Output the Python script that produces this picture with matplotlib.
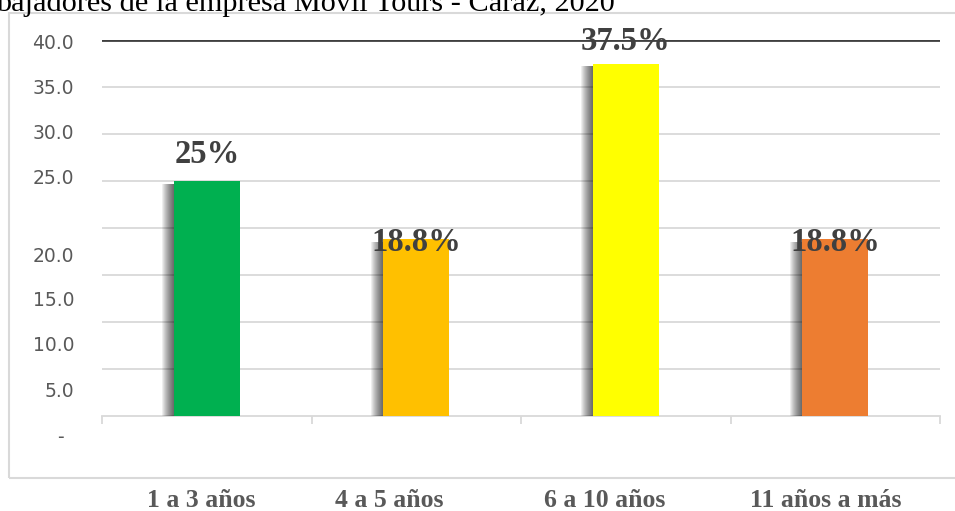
import matplotlib
matplotlib.use("Agg")
import matplotlib.pyplot as plt
from matplotlib.patches import Rectangle
from matplotlib import transforms

# Data
categories = ["1 a 3 años", "4 a 5 años", "6 a 10 años", "11 años a más"]
values = [25.0, 18.8, 37.5, 18.8]
bar_colors = ["#00B050", "#FFC000", "#FFFF00", "#ED7D31"]
ytick_values = [0, 5, 10, 15, 20, 25, 30, 35, 40]
ytick_labels = ["-", "5.0", "10.0", "15.0", "20.0", "25.0", "30.0", "35.0", "40.0"]
title_text = "bajadores de la empresa Movil Tours - Caraz, 2020"

W, H = 955, 511
DPI = 100
fig = plt.figure(figsize=(W / DPI, H / DPI), dpi=DPI)
fig.patch.set_facecolor("white")


def fx(x):
    return x / W


def fy(y):
    return 1 - y / H


# Plot area
left, right, top, bottom = 102, 940, 40, 416
ax = fig.add_axes([fx(left), fy(bottom), fx(right - left), (bottom - top) / H])
ax.set_xlim(-0.5, len(categories) - 0.5)
ax.set_ylim(0, 40)
ax.set_facecolor("none")

for s in ["left", "right", "top"]:
    ax.spines[s].set_visible(False)
ax.spines["bottom"].set_color("#d9d9d9")
ax.spines["bottom"].set_linewidth(1.3)
ax.spines["bottom"].set_zorder(0.5)

# Gridlines
for yv in ytick_values[1:]:
    if yv == 40:
        ax.axhline(yv, color="#404040", lw=2.0, zorder=2)
    else:
        ax.axhline(yv, color="#d9d9d9", lw=1.3, zorder=0)

# Category boundary tick marks
ax.set_xticks([i - 0.5 for i in range(len(categories) + 1)])
ax.set_xticklabels([])
ax.tick_params(axis="x", length=6, width=1.3, color="#d9d9d9", direction="out")
ax.set_yticks([])

# Bars with a soft shadow on the left side
bar_w = 0.315
px_data = (len(categories)) / (right - left)
for i, (v, c) in enumerate(zip(values, bar_colors)):
    for k in range(1, 13):
        ax.bar(i - k * px_data, v - 0.3, width=bar_w, color="black",
               alpha=0.065, lw=0, zorder=1)
    ax.bar(i, v, width=bar_w, color=c, lw=0, zorder=3)

# Value labels
label_off_pt = [19.4, -2.2, 15.8, -2.2]
for i, v in enumerate(values):
    ax.annotate(f"{v:g}%", (i, v), xytext=(0, label_off_pt[i]),
                textcoords="offset points", ha="center", va="center",
                fontsize=23.5, fontweight="bold", family="Liberation Serif",
                color="#404040", zorder=5, annotation_clip=False)

# Y-axis labels
ylab_off_px = [21, 22.5, 23.5, 25.5, 28, -2.5, -0.5, 1, 3]
ytr = transforms.blended_transform_factory(fig.transFigure, ax.transData)
for yv, lab, off in zip(ytick_values, ytick_labels, ylab_off_px):
    t = ytr + transforms.ScaledTranslation(0, -off / DPI, fig.dpi_scale_trans)
    if lab == "-":
        fig.text(fx(60), yv, lab, transform=t, ha="center", va="center",
                 fontsize=13.5, color="#595959", family="DejaVu Sans")
    else:
        fig.text(fx(74), yv, lab, transform=t, ha="right", va="center",
                 fontsize=13.5, color="#595959", family="DejaVu Sans")

# Category labels
cat_off_px = [-6, -27, -21, -10]
ctr = transforms.blended_transform_factory(ax.transData, fig.transFigure)
for i, (cat, off) in enumerate(zip(categories, cat_off_px)):
    t = ctr + transforms.ScaledTranslation(off / DPI, 0, fig.dpi_scale_trans)
    fig.text(i, fy(507), cat, transform=t, ha="center", va="baseline",
             fontsize=18.5, fontweight="bold", family="Liberation Serif",
             color="#595959")

# Chart frame
fig.patches.append(Rectangle((fx(9), fy(478)), fx(960 - 9), (478 - 13) / H,
                             transform=fig.transFigure, fill=False,
                             edgecolor="#d9d9d9", lw=1.5, zorder=0))

# Title (continues beyond the upper-left edge of the page)
fig.text(fx(615), fy(11), title_text, ha="right", va="baseline",
         fontsize=21.8, family="Liberation Serif", color="black")

fig.savefig("out.png", dpi=DPI, facecolor="white")
